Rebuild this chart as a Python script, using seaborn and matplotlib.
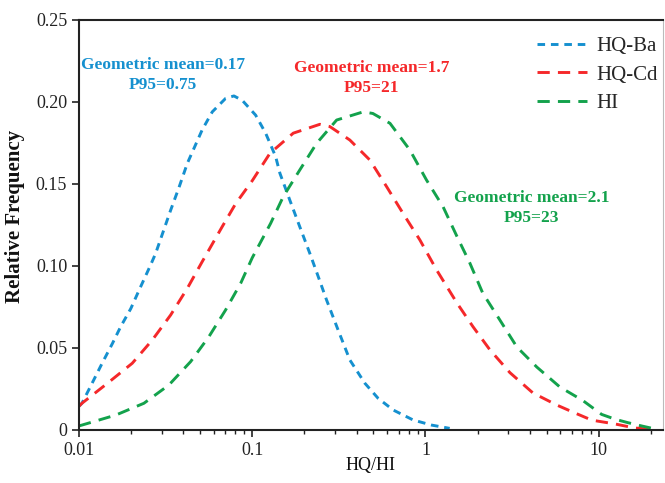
import numpy as np
import pandas as pd
import matplotlib
matplotlib.use("Agg")
import matplotlib.pyplot as plt
import matplotlib.ticker as mticker
import seaborn as sns

# ---- data ----
ba_x = [0.01, 0.0104, 0.0119, 0.0136, 0.0156, 0.0174, 0.0199, 0.0227, 0.0259, 0.0277,
        0.0338, 0.0378, 0.0422, 0.0514, 0.0588, 0.0702, 0.0784, 0.0876, 0.1046, 0.1195,
        0.1365, 0.1445, 0.165, 0.188, 0.215, 0.2405, 0.2685, 0.313, 0.366, 0.447,
        0.533, 0.651, 0.849, 1.084, 1.38]
ba_y = [0.0145, 0.0163, 0.0285, 0.0407, 0.0528, 0.063, 0.074, 0.0874, 0.1006, 0.1077,
        0.134, 0.148, 0.1626, 0.183, 0.194, 0.2022, 0.2037, 0.201, 0.192, 0.181,
        0.1667, 0.1565, 0.140, 0.124, 0.1077, 0.0935, 0.0793, 0.061, 0.0427, 0.0285,
        0.0193, 0.0122, 0.0061, 0.003, 0.001]

cd_x = [0.01, 0.0104, 0.0146, 0.0203, 0.0265, 0.0338, 0.0422, 0.0514, 0.0671, 0.0802,
        0.1, 0.1265, 0.1725, 0.2457, 0.2807, 0.366, 0.4777, 0.5964, 0.743, 0.928,
        1.159, 1.52, 1.88, 2.35, 3.07, 4.17, 5.73, 7.28, 9.13, 12.4, 16.2, 20]
cd_y = [0.0145, 0.0163, 0.0285, 0.0407, 0.0549, 0.0701, 0.0864, 0.1026, 0.124, 0.138,
        0.152, 0.1687, 0.181, 0.1864, 0.185, 0.1768, 0.1646, 0.1484, 0.132, 0.1159,
        0.0976, 0.0774, 0.063, 0.049, 0.035, 0.0226, 0.0152, 0.0104, 0.006, 0.0037,
        0.0012, 0.0005]

hi_x = [0.01, 0.0104, 0.0163, 0.0237, 0.033, 0.0441, 0.0562, 0.0702, 0.0857, 0.1,
        0.1277, 0.151, 0.188, 0.2353, 0.307, 0.4375, 0.497, 0.624, 0.813, 1.014,
        1.265, 1.52, 1.80, 2.14, 2.69, 3.37, 4.39, 5.97, 8.09, 10.4, 12.5, 14.7,
        17.8, 20]
hi_y = [0.0025, 0.003, 0.0091, 0.0163, 0.0274, 0.0417, 0.0569, 0.0732, 0.0894, 0.105,
        0.126, 0.1423, 0.1585, 0.1748, 0.189, 0.194, 0.193, 0.187, 0.1707, 0.1524,
        0.136, 0.118, 0.102, 0.0835, 0.067, 0.0506, 0.0384, 0.0262, 0.018, 0.0095,
        0.0065, 0.0045, 0.0024, 0.0012]

series = ["HQ-Ba", "HQ-Cd", "HI"]
colors = {"HQ-Ba": "#1590cf", "HQ-Cd": "#f5282a", "HI": "#13a24c"}
dash_styles = {"HQ-Ba": (2.6, 2.0), "HQ-Cd": (4.2, 2.8), "HI": (4.2, 2.8)}

x_ticks = [0.01, 0.1, 1, 10]
x_ticklabels = ["0.01", "0.1", "1", "10"]
y_ticks = [0, 0.05, 0.10, 0.15, 0.20, 0.25]
y_ticklabels = ["0", "0.05", "0.10", "0.15", "0.20", "0.25"]

annotations = [
    ("Geometric mean=0.17\nP95=0.75", 0.0305, 0.2165, "HQ-Ba"),
    ("Geometric mean=1.7\nP95=21", 0.49, 0.2146, "HQ-Cd"),
    ("Geometric mean=2.1\nP95=23", 4.1, 0.1354, "HI"),
]

df = pd.concat([
    pd.DataFrame({"x": ba_x, "y": ba_y, "series": "HQ-Ba"}),
    pd.DataFrame({"x": cd_x, "y": cd_y, "series": "HQ-Cd"}),
    pd.DataFrame({"x": hi_x, "y": hi_y, "series": "HI"}),
], ignore_index=True)

sns.set_theme(style="ticks")
plt.rcParams["font.family"] = ["Liberation Serif", "DejaVu Serif"]

fig = plt.figure(figsize=(6.65, 4.83), dpi=100)
ax = fig.add_axes([79 / 665, (483 - 430) / 483, (663 - 79) / 665, (430 - 20) / 483])

sns.lineplot(data=df, x="x", y="y", hue="series", style="series",
             hue_order=series, style_order=series, palette=colors,
             dashes=dash_styles, sort=False, estimator=None, linewidth=2.1,
             ax=ax, legend=True)

ax.set_xscale("log")
ax.set_xlim(0.01, 23.5)
ax.set_ylim(0, 0.25)
ax.set_xticks(x_ticks)
ax.set_xticklabels(x_ticklabels)
ax.xaxis.set_minor_locator(mticker.LogLocator(base=10, subs=np.arange(2, 10)))
ax.xaxis.set_minor_formatter(mticker.NullFormatter())
ax.set_yticks(y_ticks)
ax.set_yticklabels(y_ticklabels)

ax.tick_params(axis="both", which="major", direction="out", length=5, width=1.2,
               labelsize=13, colors="#222222")
ax.tick_params(axis="x", which="minor", direction="out", length=3, width=1.0, colors="#222222")
ax.tick_params(axis="y", which="minor", left=False)

for side in ["left", "bottom", "top"]:
    ax.spines[side].set_color("#222222")
    ax.spines[side].set_linewidth(1.5)
ax.spines["right"].set_color("#bbbbbb")
ax.spines["right"].set_linewidth(0.8)

ax.set_xlabel("HQ/HI", fontsize=13, color="#111111", labelpad=-1)
ax.set_ylabel("Relative Frequency", fontsize=15, fontweight="bold", color="#111111")
ax.yaxis.set_label_coords(-0.092, 0.522)

for text, tx, ty, key in annotations:
    ax.text(tx, ty, text, color=colors[key], fontsize=12.5, fontweight="bold",
            ha="center", va="center", linespacing=1.3)

handles, labels = ax.get_legend_handles_labels()
leg = ax.legend(handles, labels, loc="upper right", frameon=False, fontsize=15,
                handlelength=2.4, handletextpad=0.45, labelspacing=0.42,
                bbox_to_anchor=(1.017, 0.995), borderaxespad=0.3)
for line in leg.get_lines():
    line.set_linewidth(2.1)

fig.savefig("out.png", dpi=100)
